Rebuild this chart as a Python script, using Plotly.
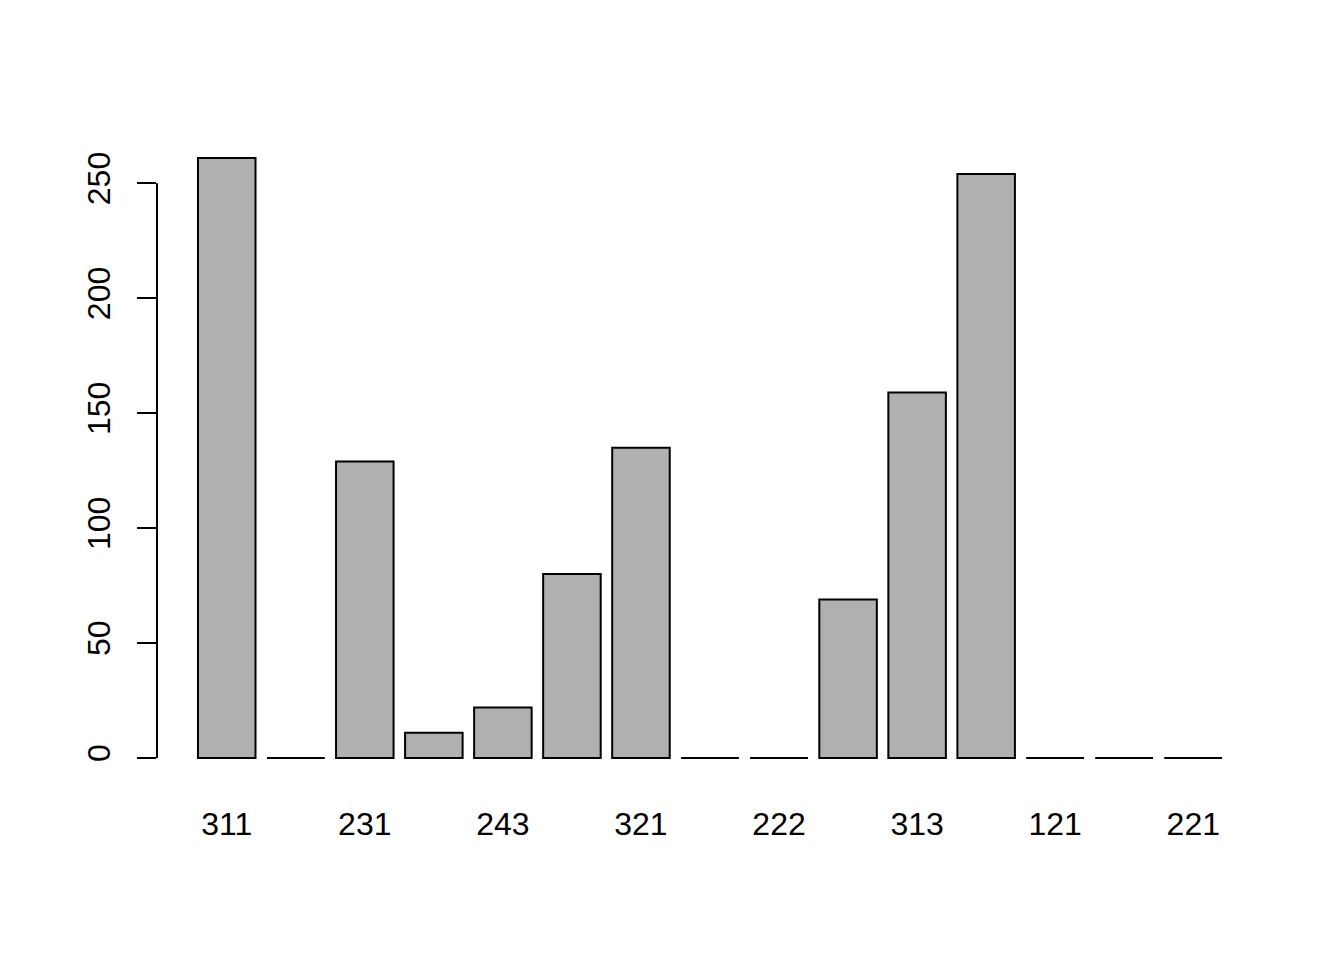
import numpy as np
import plotly.graph_objects as go

# Bar labels (R drops every other label because they would overlap; unknown ones left blank)
labels = ["311", "", "231", "", "243", "", "321", "", "222", "", "313", "", "121", "", "221"]
values = [261, 0, 129, 11, 22, 80, 135, 0, 0, 69, 159, 254, 0, 0, 0]
y_ticks = [0, 50, 100, 150, 200, 250]

pos = np.arange(len(values))
bar_width = 1 / 1.2
fill = "#B0B0B0"
font = dict(family="Liberation Sans, Arial, Helvetica, sans-serif", size=32, color="black")

fig = go.Figure()
fig.add_trace(go.Bar(
    x=pos, y=values, width=bar_width,
    marker=dict(color=fill, line=dict(color="black", width=2)),
    hoverinfo="x+y", showlegend=False,
))

# zero-height bars are drawn by R as a flat outline; plotly hides them, so draw their outline
zx, zy = [], []
for p, v in zip(pos, values):
    if v == 0:
        zx += [p - bar_width / 2, p + bar_width / 2, None]
        zy += [v, v, None]
fig.add_trace(go.Scatter(x=zx, y=zy, mode="lines", line=dict(color="black", width=2),
                         hoverinfo="skip", showlegend=False))

tick_idx = [i for i, l in enumerate(labels) if l]
n = len(values)
lo, hi = 0, max(values)
pad_y = 0.04 * (hi - lo)
fig.update_layout(
    width=1344, height=960,
    margin=dict(l=149, r=89, t=126, b=186),
    plot_bgcolor="white", paper_bgcolor="white",
    font=font,
    xaxis=dict(
        range=[-1.01, n - 1 + 1.01],
        tickvals=[pos[i] for i in tick_idx], ticktext=[labels[i] for i in tick_idx],
        showgrid=False, zeroline=False, showline=False,
        ticks="outside", ticklen=14, tickcolor="rgba(0,0,0,0)", tickfont=font,
    ),
    yaxis=dict(
        range=[lo - pad_y, hi + pad_y],
        tickvals=y_ticks, ticktext=[str(t) for t in y_ticks],
        showgrid=False, zeroline=False, showline=False,
        ticks="outside", ticklen=19, tickwidth=2, tickcolor="black",
        tickangle=-90, tickfont=font, ticklabelstandoff=14,
    ),
    shapes=[dict(type="line", xref="paper", yref="y", x0=0, x1=0,
                 y0=min(y_ticks), y1=max(y_ticks), line=dict(color="black", width=2))],
)

fig.write_html("out.html")
